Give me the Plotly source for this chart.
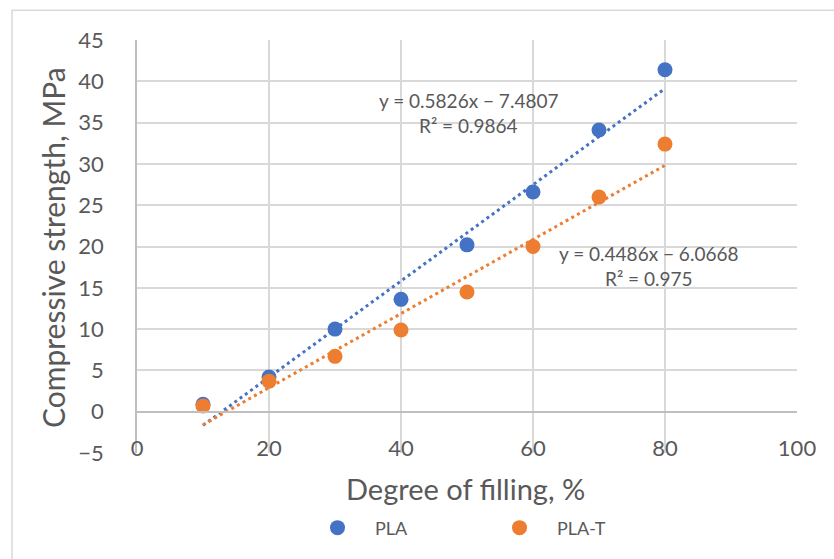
import numpy as np
import plotly.graph_objects as go

# ---- data ----
filling = [10, 20, 30, 40, 50, 60, 70, 80]
pla = [0.9, 4.2, 10.0, 13.6, 20.2, 26.6, 34.1, 41.4]
pla_t = [0.7, 3.7, 6.7, 9.9, 14.5, 20.0, 26.0, 32.4]

# trendline coefficients as shown on the chart
pla_slope, pla_icpt, pla_r2 = 0.5826, -7.4807, 0.9864
plat_slope, plat_icpt, plat_r2 = 0.4486, -6.0668, 0.975

x_ticks = [0, 20, 40, 60, 80, 100]
y_ticks = [-5, 0, 5, 10, 15, 20, 25, 30, 35, 40, 45]

BLUE = "#4472C4"
ORANGE = "#ED7D31"
TXT = "#595959"
GRID = "#D9D9D9"
FONT = "Lato"

L, R, T, B = 137, 37, 40, 102
PW, PH = 834 - L - R, 559 - T - B


def px(xp):
    return (xp - L) / PW


def py(yp):
    return (559 - B - yp) / PH


fig = go.Figure()

x_fit = np.array([min(filling), max(filling)], dtype=float)
fig.add_trace(go.Scatter(x=x_fit, y=pla_slope * x_fit + pla_icpt, mode="lines",
                         line=dict(color=BLUE, width=3, dash="3px,3.5px"),
                         showlegend=False, hoverinfo="skip"))
fig.add_trace(go.Scatter(x=x_fit, y=plat_slope * x_fit + plat_icpt, mode="lines",
                         line=dict(color=ORANGE, width=3, dash="3px,3.5px"),
                         showlegend=False, hoverinfo="skip"))

fig.add_trace(go.Scatter(x=filling, y=pla, mode="markers", name="PLA",
                         marker=dict(color=BLUE, size=15)))
fig.add_trace(go.Scatter(x=filling, y=pla_t, mode="markers", name="PLA-T",
                         marker=dict(color=ORANGE, size=15)))


def fmt_eq(s, b):
    sign = "−" if b < 0 else "+"
    return f"y = {s}x {sign} {abs(b)}"


annots = [
    dict(x=50.3, y=37.7, text=fmt_eq(pla_slope, pla_icpt)),
    dict(x=50.3, y=34.6, text=f"R² = {pla_r2}"),
    dict(x=77.5, y=19.2, text=fmt_eq(plat_slope, plat_icpt)),
    dict(x=77.5, y=16.1, text=f"R² = {plat_r2}"),
]
for a in annots:
    fig.add_annotation(xref="x", yref="y", showarrow=False, xanchor="center", yanchor="middle",
                       font=dict(family=FONT, size=19, color=TXT), **a)

# axis titles
fig.add_annotation(xref="paper", yref="paper", x=px(465), y=py(493),
                   xanchor="center", yanchor="middle",
                   text="Degree of filling, %", showarrow=False,
                   font=dict(family=FONT, size=29, color=TXT))
fig.add_annotation(xref="paper", yref="paper", x=px(53), y=py(250),
                   xanchor="center", yanchor="middle",
                   text="Compressive strength, MPa", showarrow=False, textangle=-90,
                   font=dict(family=FONT, size=30, color=TXT))

# chart border (left & top visible)
fig.add_shape(type="rect", xref="paper", yref="paper",
              x0=px(12), x1=px(845), y0=py(570), y1=py(10),
              line=dict(color="#D9D9D9", width=1.5), fillcolor="rgba(0,0,0,0)", layer="below")

fig.update_layout(
    width=834, height=559,
    margin=dict(l=L, r=R, t=T, b=B),
    paper_bgcolor="white", plot_bgcolor="white",
    font=dict(family=FONT, color=TXT),
    xaxis=dict(range=[0, 100], tickvals=x_ticks, ticktext=[str(v) for v in x_ticks],
               showgrid=True, gridcolor=GRID, gridwidth=1.5, automargin=False,
               zeroline=False, showline=True, linecolor="#BFBFBF", linewidth=1.5,
               anchor="free", position=0.1, ticks="", ticklabelstandoff=17,
               tickfont=dict(family=FONT, size=22, color=TXT)),
    yaxis=dict(range=[-5, 45], tickvals=y_ticks, automargin=False,
               showgrid=True, gridcolor=GRID, gridwidth=1.5,
               zeroline=False, showline=True, linecolor="#BFBFBF", linewidth=1.5,
               ticks="", ticklabelstandoff=27,
               tickfont=dict(family=FONT, size=22, color=TXT)),
    legend=dict(orientation="h", x=px(300), y=py(514),
                xanchor="left", yanchor="top", entrywidth=102, itemwidth=65,
                font=dict(family=FONT, size=18, color=TXT), bgcolor="rgba(0,0,0,0)"),
)

fig.write_html("out.html", config={"displayModeBar": False},
               post_script="document.body.style.margin='0';")
